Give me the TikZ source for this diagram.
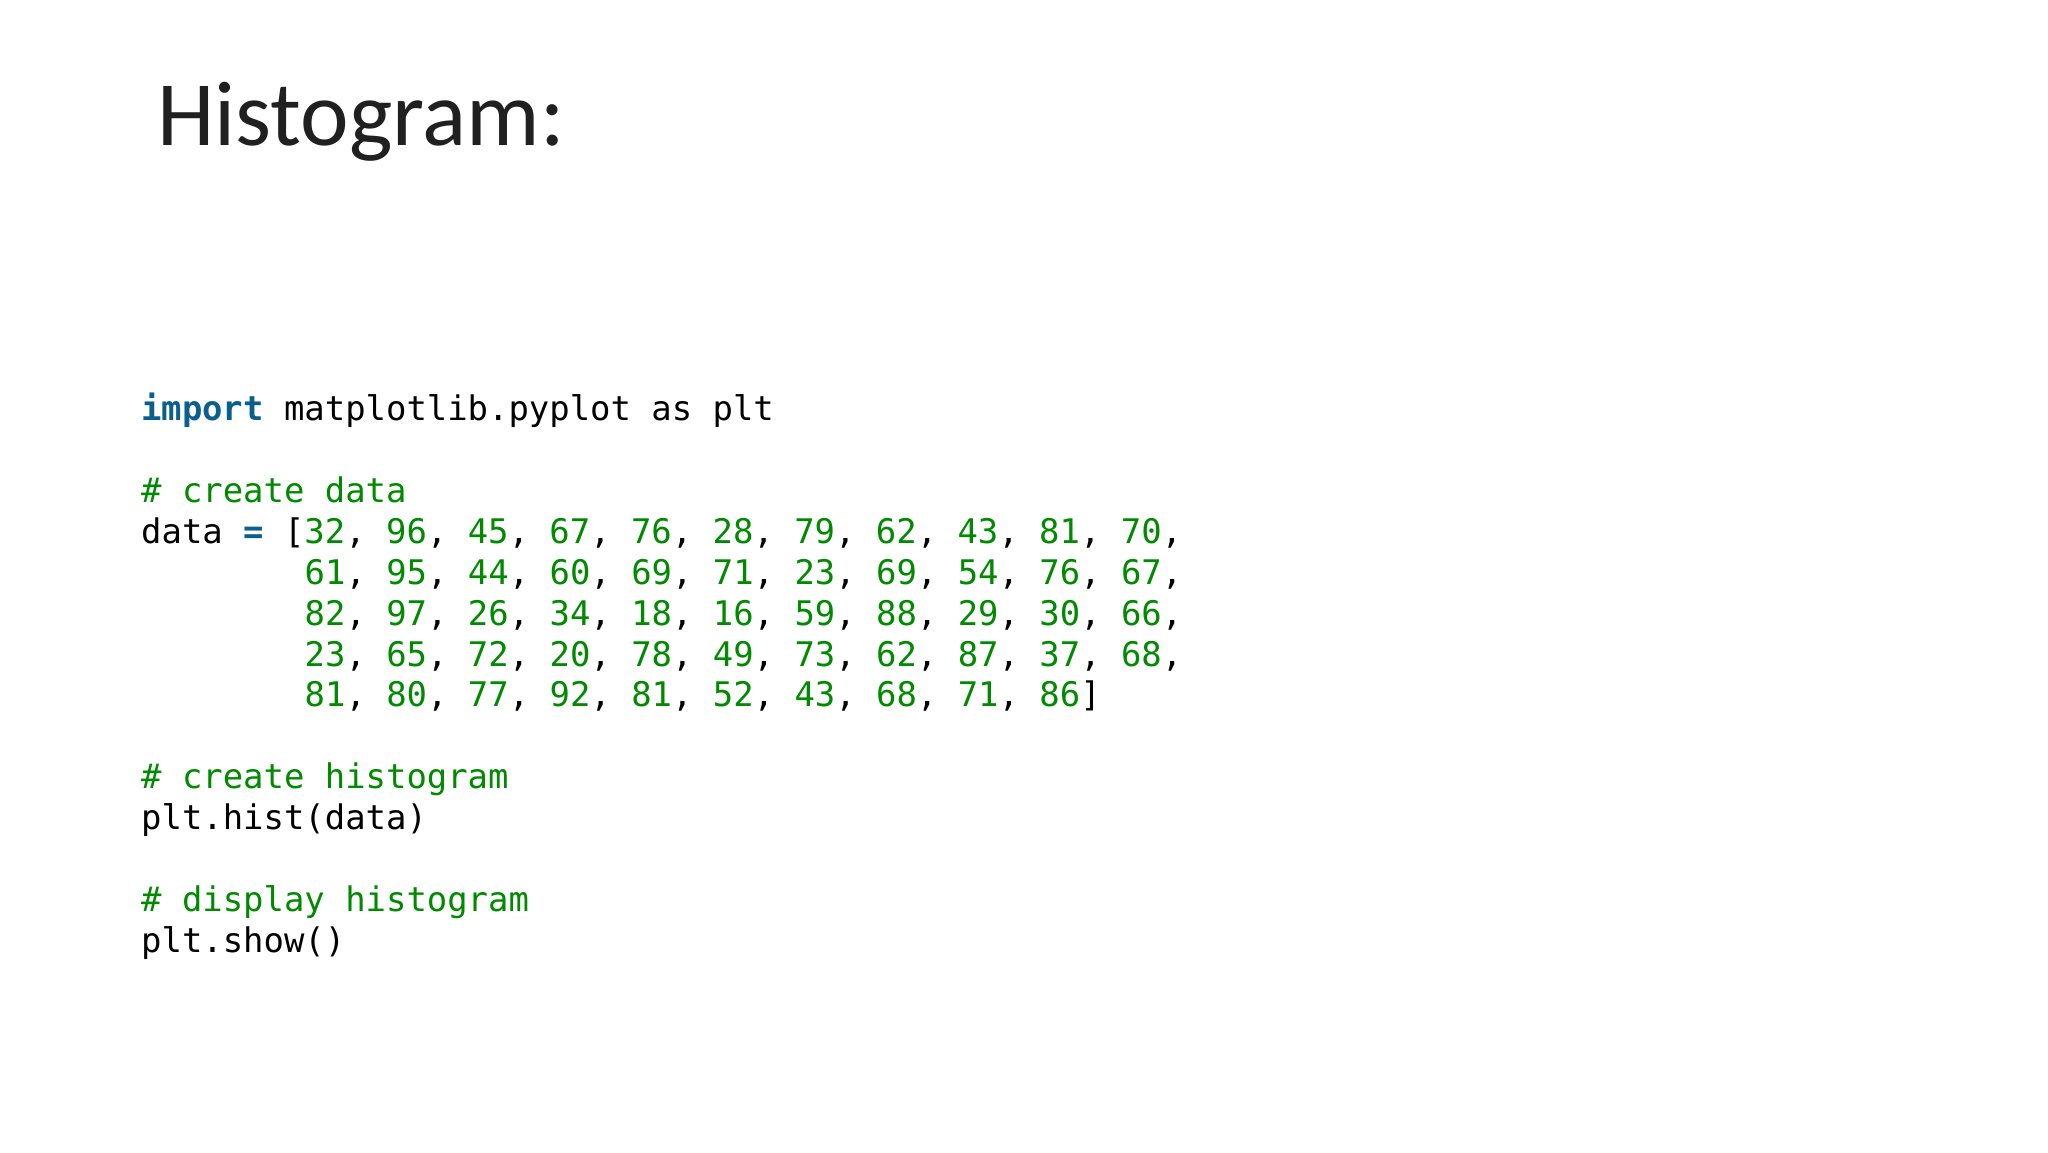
\documentclass[tikz,border=0pt]{standalone}
\usepackage{fontspec}
\setmainfont{Carlito}
\setmonofont{DejaVu Sans Mono}
\definecolor{kw}{HTML}{0A5F8E}
\definecolor{gr}{HTML}{008A00}
\definecolor{ttl}{HTML}{202020}
\newcommand{\kwd}[1]{\textcolor{kw}{\bfseries #1}}
\newcommand{\g}[1]{\textcolor{gr}{#1}}
\begin{document}
\begin{tikzpicture}[x=1pt,y=1pt,
  code/.style={anchor=base west,inner sep=0pt,font=\fontsize{33.9}{40}\selectfont\ttfamily}]
\useasboundingbox (0,0) rectangle (2048,1152);
\fill[white] (0,0) rectangle (2048,1152);
\node[anchor=base west,inner sep=0pt,text=ttl,font=\fontsize{92}{100}\selectfont] (title) at (157,1006) {Histogram:};
\def\lx{141}
\def\cx{304.5}
\def\yy#1{731-#1*40.85}
\node[code] (l0) at (\lx,{\yy{0}}) {\kwd{import} matplotlib.pyplot as plt};
\node[code] (l2) at (\lx,{\yy{2}}) {\g{\# create data}};
\node[code] (l3) at (\lx,{\yy{3}}) {data \kwd{=} [\g{32}, \g{96}, \g{45}, \g{67}, \g{76}, \g{28}, \g{79}, \g{62}, \g{43}, \g{81}, \g{70},};
\node[code] (l4) at (\cx,{\yy{4}}) {\g{61}, \g{95}, \g{44}, \g{60}, \g{69}, \g{71}, \g{23}, \g{69}, \g{54}, \g{76}, \g{67},};
\node[code] (l5) at (\cx,{\yy{5}}) {\g{82}, \g{97}, \g{26}, \g{34}, \g{18}, \g{16}, \g{59}, \g{88}, \g{29}, \g{30}, \g{66},};
\node[code] (l6) at (\cx,{\yy{6}}) {\g{23}, \g{65}, \g{72}, \g{20}, \g{78}, \g{49}, \g{73}, \g{62}, \g{87}, \g{37}, \g{68},};
\node[code] (l7) at (\cx,{\yy{7}}) {\g{81}, \g{80}, \g{77}, \g{92}, \g{81}, \g{52}, \g{43}, \g{68}, \g{71}, \g{86}]};
\node[code] (l9) at (\lx,{\yy{9}}) {\g{\# create histogram}};
\node[code] (l10) at (\lx,{\yy{10}}) {plt.hist(data)};
\node[code] (l12) at (\lx,{\yy{12}}) {\g{\# display histogram}};
\node[code] (l13) at (\lx,{\yy{13}}) {plt.show()};
\end{tikzpicture}
\end{document}
